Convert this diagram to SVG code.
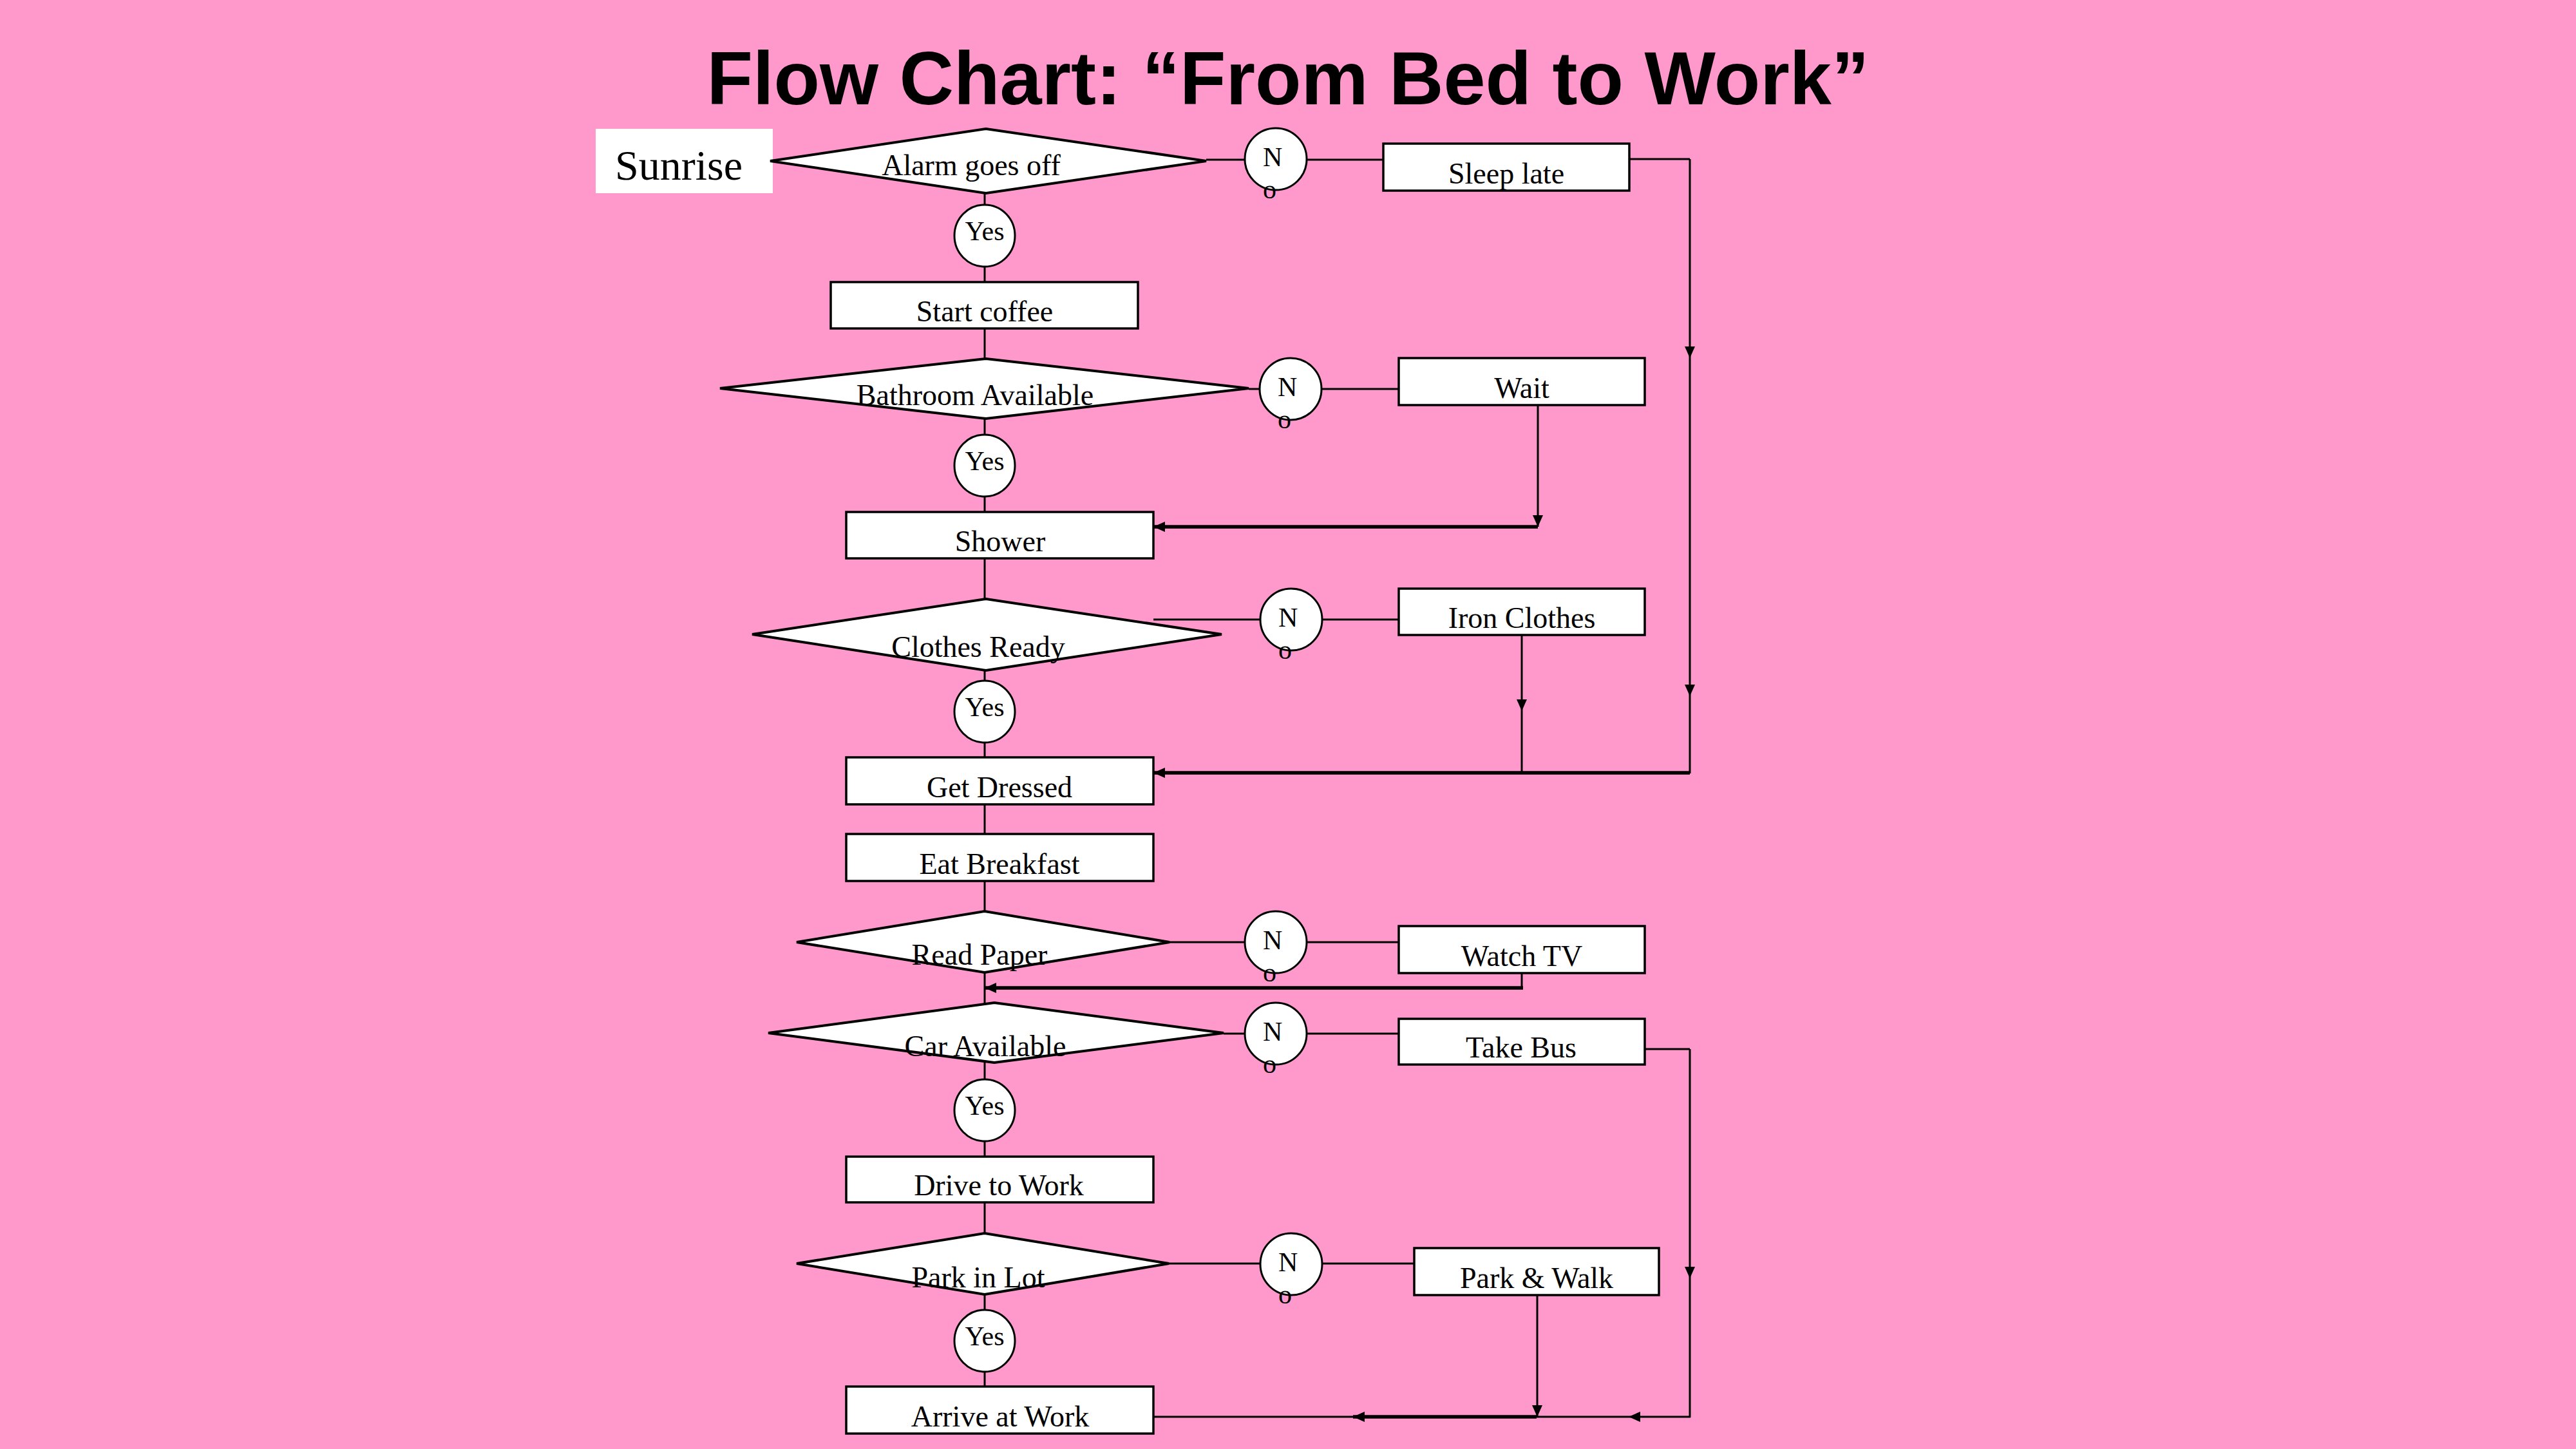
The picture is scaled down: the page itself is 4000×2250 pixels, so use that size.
<svg xmlns="http://www.w3.org/2000/svg" width="4000" height="2250" viewBox="0 0 4000 2250">
<defs>
<marker id="ah" viewBox="0 0 18 16" refX="18" refY="8" markerWidth="18" markerHeight="16" markerUnits="userSpaceOnUse" orient="auto">
<path d="M0,0 L18,8 L0,16 z" fill="#000"/>
</marker>
</defs>
<style>
.box{fill:#fff;stroke:#000;stroke-width:3.5}
.dia{fill:#fff;stroke:#000;stroke-width:4}
.cir{fill:#fff;stroke:#000;stroke-width:3}
.ln{fill:none;stroke:#000;stroke-width:3}
.th{fill:none;stroke:#000;stroke-width:5.5}
.lbl{font-family:"Liberation Serif","Times New Roman",serif;font-size:46px;fill:#000;text-anchor:middle}
.sm{font-family:"Liberation Serif","Times New Roman",serif;font-size:42px;fill:#000}
.yes{text-anchor:middle}
</style>
<rect x="0" y="0" width="4000" height="2250" fill="#FF99CC"/>
<text x="2000" y="162" font-family="'Liberation Sans',Arial,sans-serif" font-weight="bold" font-size="117" text-anchor="middle" fill="#000">Flow Chart: “From Bed to Work”</text>

<g id="connectors">
<line class="ln" x1="1529" y1="300" x2="1529" y2="2153"/>
<line class="ln" x1="1873" y1="248" x2="2148" y2="248"/>
<line class="ln" x1="2530" y1="247" x2="2624" y2="247"/>
<line class="ln" x1="2624" y1="247" x2="2624" y2="556" marker-end="url(#ah)"/>
<line class="ln" x1="2624" y1="556" x2="2624" y2="1081" marker-end="url(#ah)"/>
<line class="ln" x1="2624" y1="1081" x2="2624" y2="1201"/>
<line class="th" x1="2624" y1="1200" x2="1791" y2="1200" marker-end="url(#ah)"/>
<line class="ln" x1="1939" y1="604" x2="2172" y2="604"/>
<line class="ln" x1="2388" y1="629" x2="2388" y2="818" marker-end="url(#ah)"/>
<line class="th" x1="2388" y1="818" x2="1791" y2="818" marker-end="url(#ah)"/>
<line class="ln" x1="1791" y1="962" x2="2172" y2="962"/>
<line class="ln" x1="2363" y1="986" x2="2363" y2="1104" marker-end="url(#ah)"/>
<line class="ln" x1="2363" y1="1104" x2="2363" y2="1200"/>
<line class="ln" x1="1816" y1="1463" x2="2172" y2="1463"/>
<line class="ln" x1="2363" y1="1511" x2="2363" y2="1536"/>
<line class="th" x1="2365" y1="1534" x2="1529" y2="1534" marker-end="url(#ah)"/>
<line class="ln" x1="1900" y1="1605" x2="2172" y2="1605"/>
<line class="ln" x1="2554" y1="1629" x2="2624" y2="1629"/>
<line class="ln" x1="2624" y1="1629" x2="2624" y2="1985" marker-end="url(#ah)"/>
<line class="ln" x1="2624" y1="1985" x2="2624" y2="2201"/>
<line class="ln" x1="2625" y1="2200" x2="2529" y2="2200" marker-end="url(#ah)"/>
<line class="ln" x1="2529" y1="2200" x2="2386" y2="2200"/>
<line class="th" x1="2386" y1="2200" x2="2101" y2="2200" marker-end="url(#ah)"/>
<line class="ln" x1="2101" y1="2200" x2="1791" y2="2200"/>
<line class="ln" x1="1815" y1="1962" x2="2196" y2="1962"/>
<line class="ln" x1="2387" y1="2011" x2="2387" y2="2200" marker-end="url(#ah)"/>
</g>

<g id="sunrise">
<rect x="925" y="200" width="275" height="100" fill="#fff"/>
<text x="955" y="279" font-family="'Liberation Serif','Times New Roman',serif" font-size="66" fill="#000">Sunrise</text>
</g>

<g id="alarm">
<polygon class="dia" points="1196,250 1531,200 1873,250 1531,300"/>
<text class="lbl" x="1508" y="272">Alarm goes off</text>
</g>
<g id="no1">
<circle class="cir" cx="1981" cy="247" r="48"/>
<text class="sm" x="1961" y="258">N</text><text class="sm" x="1961" y="308">o</text>
</g>
<g id="sleeplate">
<rect class="box" x="2148" y="223" width="382" height="73"/>
<text class="lbl" x="2339" y="285">Sleep late</text>
</g>
<g id="yes1">
<ellipse class="cir" cx="1529" cy="366" rx="47" ry="48"/>
<text class="sm yes" x="1529" y="373">Yes</text>
</g>
<g id="startcoffee">
<rect class="box" x="1290" y="438" width="477" height="72"/>
<text class="lbl" x="1529" y="499">Start coffee</text>
</g>

<g id="bathroom">
<polygon class="dia" points="1118,603 1531,557 1939,603 1531,650"/>
<text class="lbl" x="1514" y="629">Bathroom Available</text>
</g>
<g id="no2">
<circle class="cir" cx="2004" cy="604" r="48"/>
<text class="sm" x="1984" y="615">N</text><text class="sm" x="1984" y="665">o</text>
</g>
<g id="wait">
<rect class="box" x="2172" y="556" width="382" height="73"/>
<text class="lbl" x="2363" y="618">Wait</text>
</g>
<g id="yes2">
<ellipse class="cir" cx="1529" cy="723" rx="47" ry="48"/>
<text class="sm yes" x="1529" y="730">Yes</text>
</g>
<g id="shower">
<rect class="box" x="1314" y="795" width="477" height="72"/>
<text class="lbl" x="1553" y="856">Shower</text>
</g>

<g id="clothes">
<polygon class="dia" points="1168,985 1531,930 1897,985 1531,1041"/>
<text class="lbl" x="1519" y="1020">Clothes Ready</text>
</g>
<g id="no3">
<circle class="cir" cx="2005" cy="962" r="48"/>
<text class="sm" x="1985" y="973">N</text><text class="sm" x="1985" y="1023">o</text>
</g>
<g id="iron">
<rect class="box" x="2172" y="914" width="382" height="72"/>
<text class="lbl" x="2363" y="975">Iron Clothes</text>
</g>
<g id="yes3">
<ellipse class="cir" cx="1529" cy="1105" rx="47" ry="48"/>
<text class="sm yes" x="1529" y="1112">Yes</text>
</g>
<g id="dressed">
<rect class="box" x="1314" y="1176" width="477" height="73"/>
<text class="lbl" x="1552" y="1238">Get Dressed</text>
</g>
<g id="breakfast">
<rect class="box" x="1314" y="1295" width="477" height="73"/>
<text class="lbl" x="1552" y="1357">Eat Breakfast</text>
</g>

<g id="readpaper">
<polygon class="dia" points="1237,1463 1529,1415 1816,1463 1529,1510"/>
<text class="lbl" x="1521" y="1498">Read Paper</text>
</g>
<g id="no4">
<circle class="cir" cx="1981" cy="1463" r="48"/>
<text class="sm" x="1961" y="1474">N</text><text class="sm" x="1961" y="1524">o</text>
</g>
<g id="watchtv">
<rect class="box" x="2172" y="1438" width="382" height="73"/>
<text class="lbl" x="2363" y="1500">Watch TV</text>
</g>

<g id="car">
<polygon class="dia" points="1193,1604 1544,1557 1900,1604 1544,1650"/>
<text class="lbl" x="1530" y="1640">Car Available</text>
</g>
<g id="no5">
<circle class="cir" cx="1981" cy="1605" r="48"/>
<text class="sm" x="1961" y="1616">N</text><text class="sm" x="1961" y="1666">o</text>
</g>
<g id="takebus">
<rect class="box" x="2172" y="1582" width="382" height="71"/>
<text class="lbl" x="2362" y="1642">Take Bus</text>
</g>
<g id="yes4">
<ellipse class="cir" cx="1529" cy="1724" rx="47" ry="48"/>
<text class="sm yes" x="1529" y="1731">Yes</text>
</g>
<g id="drive">
<rect class="box" x="1314" y="1796" width="477" height="71"/>
<text class="lbl" x="1551" y="1856">Drive to Work</text>
</g>

<g id="parklot">
<polygon class="dia" points="1237,1962 1529,1915 1815,1962 1529,2010"/>
<text class="lbl" x="1519" y="1999">Park in Lot</text>
</g>
<g id="no6">
<circle class="cir" cx="2005" cy="1963" r="48"/>
<text class="sm" x="1985" y="1974">N</text><text class="sm" x="1985" y="2024">o</text>
</g>
<g id="parkwalk">
<rect class="box" x="2196" y="1938" width="380" height="73"/>
<text class="lbl" x="2386" y="2000">Park &amp; Walk</text>
</g>
<g id="yes5">
<ellipse class="cir" cx="1529" cy="2082" rx="47" ry="48"/>
<text class="sm yes" x="1529" y="2089">Yes</text>
</g>
<g id="arrive">
<rect class="box" x="1314" y="2153" width="477" height="73"/>
<text class="lbl" x="1553" y="2215">Arrive at Work</text>
</g>
</svg>
